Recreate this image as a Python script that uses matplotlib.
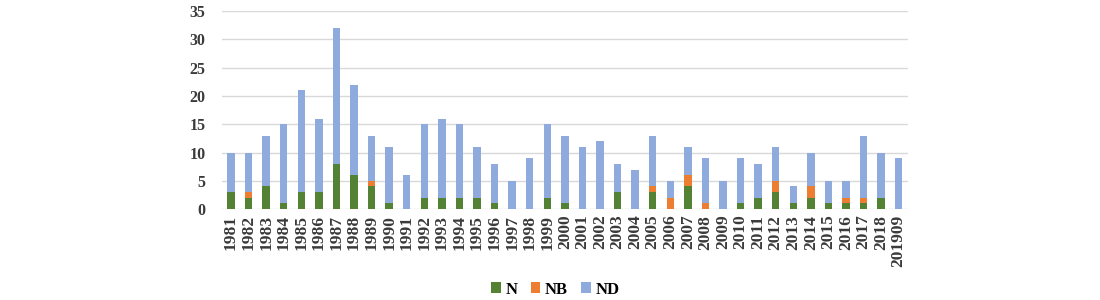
import numpy as np
import matplotlib.pyplot as plt

years = [str(y) for y in range(1981, 2019)] + ["201909"]
n_vals = [3, 2, 4, 1, 3, 3, 8, 6, 4, 1, 0, 2, 2, 2, 2, 1, 0, 0, 2, 1,
          0, 0, 3, 0, 3, 0, 4, 0, 0, 1, 2, 3, 1, 2, 1, 1, 1, 2, 0]
nb_vals = [0, 1, 0, 0, 0, 0, 0, 0, 1, 0, 0, 0, 0, 0, 0, 0, 0, 0, 0, 0,
           0, 0, 0, 0, 1, 2, 2, 1, 0, 0, 0, 2, 0, 2, 0, 1, 1, 0, 0]
totals = [10, 10, 13, 15, 21, 16, 32, 22, 13, 11, 6, 15, 16, 15, 11, 8, 5, 9, 15, 13,
          11, 12, 8, 7, 13, 5, 11, 9, 5, 9, 8, 11, 4, 10, 5, 5, 13, 10, 9]
nd_vals = [t - a - b for t, a, b in zip(totals, n_vals, nb_vals)]

plt.rcParams['font.family'] = ['Liberation Serif', 'DejaVu Serif']
plt.rcParams['font.weight'] = 'bold'

fig = plt.figure(figsize=(11, 3), dpi=100)
ax = fig.add_axes([0.202, 0.303, 0.623, 0.66])

x = np.arange(len(years))
w = 0.42
ax.bar(x, n_vals, w, color="#548235", label="N", zorder=3)
ax.bar(x, nb_vals, w, bottom=n_vals, color="#ED7D31", label="NB", zorder=3)
ax.bar(x, nd_vals, w, bottom=np.array(n_vals) + np.array(nb_vals),
       color="#8FAADC", label="ND", zorder=3)

ax.set_xlim(-0.5, len(years) - 0.5)
ax.set_ylim(0, 35)
ax.set_yticks(range(0, 36, 5))
ax.set_xticks(x)
ax.set_xticklabels(years, rotation=90, fontsize=12.5, fontweight='bold', color="#3a3a3a")
ax.tick_params(axis='y', labelsize=11.5, labelcolor="#3a3a3a", length=0, pad=12)
ax.tick_params(axis='x', length=0, pad=4)
ax.grid(axis='y', color="#d9d9d9", linewidth=1, zorder=0)
for s in ax.spines.values():
    s.set_visible(False)

fig.legend(loc='center', bbox_to_anchor=(0.505, 0.035), ncol=3, frameon=False,
           handlelength=0.55, handleheight=0.6, handletextpad=0.3, columnspacing=0.8,
           prop={'family': 'Liberation Serif', 'weight': 'bold', 'size': 12})

fig.savefig("out.png", dpi=100)
